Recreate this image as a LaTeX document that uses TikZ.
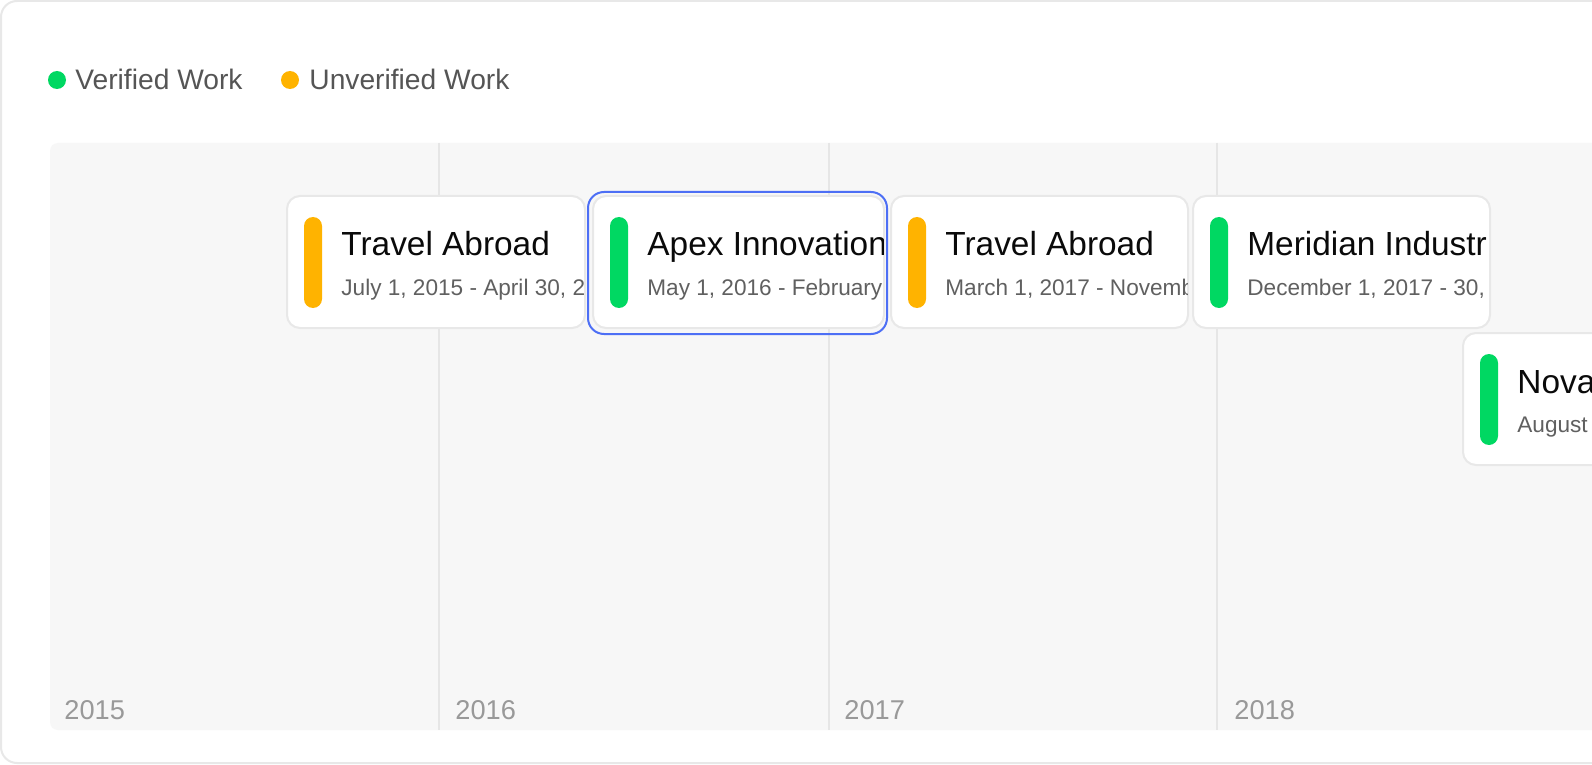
\documentclass[tikz,border=0pt]{standalone}
\usepackage{fontspec}
\setmainfont{Liberation Sans}
\usetikzlibrary{fit}
\definecolor{vgreen}{RGB}{0,216,98}
\definecolor{uorange}{RGB}{255,179,0}
\definecolor{selblue}{RGB}{77,111,245}
\definecolor{cardline}{RGB}{232,232,232}
\definecolor{panelbg}{RGB}{247,247,247}
\definecolor{gridcol}{RGB}{230,230,230}
\definecolor{legendcol}{RGB}{85,85,85}
\definecolor{yearcol}{RGB}{153,153,153}
\definecolor{datecol}{RGB}{96,96,96}
\definecolor{titlecol}{RGB}{10,10,10}
\tikzset{
  cardbox/.style={draw=cardline, line width=1pt, fill=white, rounded corners=6.5pt, inner sep=0pt},
  ringbox/.style={draw=selblue, line width=1pt, rounded corners=8pt, inner sep=0pt},
  barbox/.style={rounded corners=4.5pt, inner sep=0pt},
  titletext/.style={inner sep=0pt, text=titlecol, font=\fontsize{16.7pt}{19pt}\selectfont},
  datetext/.style={inner sep=0pt, text=datecol, font=\fontsize{11.3pt}{13pt}\selectfont},
  legendtext/.style={inner sep=0pt, text=legendcol, font=\fontsize{14.1pt}{16pt}\selectfont},
  yeartext/.style={inner sep=0pt, text=yearcol, font=\fontsize{13.6pt}{16pt}\selectfont},
  legenddot/.style={circle, minimum size=9pt, inner sep=0pt},
  gridline/.style={draw=gridcol, line width=1pt}
}
% #1 name, #2 left, #3 top, #4 right, #5 bar colour, #6 title, #7 date
\newcommand\mkcard[7]{%
  \node[cardbox, fit={(#2,#3) (#4,#3+132)}] (#1) {};
  \node[barbox, fill=#5, fit={(#2+17,#3+21) (#2+35,#3+112)}] (#1bar) {};
  \begin{scope}
    \clip (#2,#3) rectangle (#4-1,#3+132);
    \node[titletext, anchor=base west] (#1title) at (#2+54,#3+60) {#6};
    \node[datetext, anchor=base west] (#1date) at (#2+54,#3+99) {#7};
  \end{scope}
}
\begin{document}
\begin{tikzpicture}[x=0.5pt,y=-0.5pt]
\clip (0,0) rectangle (1592,765);
\fill[white] (0,0) rectangle (1592,765);
% outer card
\draw[draw=cardline, line width=1pt, fill=white, rounded corners=8pt] (1,1) rectangle (1650,763);
% legend
\node[legenddot, fill=vgreen] (dotv) at (57,80) {};
\node[legendtext, anchor=base west] (legv) at (75,90) {Verified Work};
\node[legenddot, fill=uorange] (dotu) at (290,80) {};
\node[legendtext, anchor=base west] (legu) at (309,90) {Unverified Work};
% panel
\fill[panelbg, rounded corners=4pt] (50,143) rectangle (1650,730);
\draw[gridline] (439,143) -- (439,730);
\draw[gridline] (829,143) -- (829,730);
\draw[gridline] (1217,143) -- (1217,730);
% years
\node[yeartext, anchor=base west] (y2015) at (64,719) {2015};
\node[yeartext, anchor=base west] (y2016) at (455,719) {2016};
\node[yeartext, anchor=base west] (y2017) at (844,719) {2017};
\node[yeartext, anchor=base west] (y2018) at (1234,719) {2018};
% cards
\mkcard{ca}{287}{196}{585}{uorange}{Travel Abroad}{July 1, 2015 - April 30, 2}
\node[ringbox, fit={(588,192) (887,334)}] (sel) {};
\mkcard{cb}{593}{196}{884}{vgreen}{Apex Innovation}{May 1, 2016 - February}
\mkcard{cc}{891}{196}{1188}{uorange}{Travel Abroad}{March 1, 2017 - Novemb}
\mkcard{cd}{1193}{196}{1490}{vgreen}{Meridian Industr}{December 1, 2017 - 30,}
\mkcard{ce}{1463}{333}{1800}{vgreen}{Nova}{August}
\end{tikzpicture}
\end{document}
